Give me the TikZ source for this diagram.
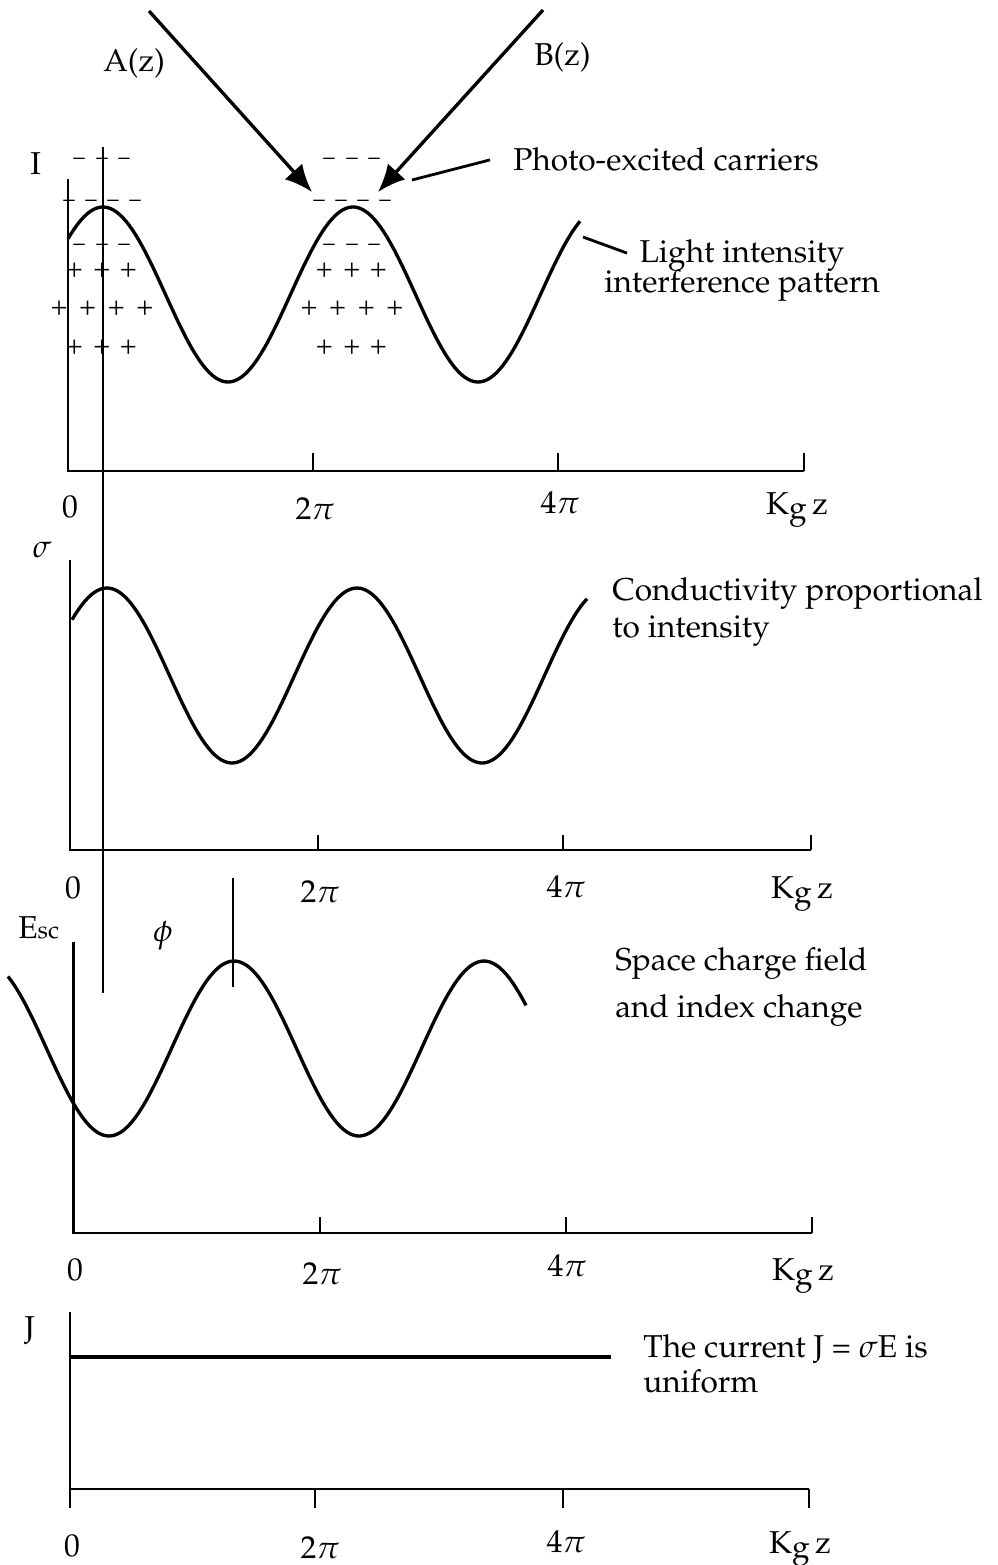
\documentclass[tikz,border=0pt]{standalone}
\usepackage[T1]{fontenc}
\usepackage{mathpazo}
\usetikzlibrary{arrows.meta}

\newcommand{\lab}{\fontsize{18}{21}\selectfont}
\newcommand{\Kgz}{K\raisebox{-.3ex}{g}\,z}

\begin{document}
\begin{tikzpicture}[x=0.2mm, y=-0.2mm, >={Latex[length=5.5mm,width=4.7mm]},
    every node/.style={font=\lab, inner sep=0pt},
    axis/.style={line width=1.4pt},
    wave/.style={line width=1.9pt, line join=round},
    beam/.style={line width=1.9pt},
    leader/.style={line width=1.6pt},
    guide/.style={line width=1.1pt},
    charge/.style={font=\fontsize{16}{16}\selectfont},
    electron/.style={font=\fontsize{13}{13}\selectfont}]
    \def\P{250}   % one period (2pi) in px
    \def\A{87.5}  % wave amplitude

    \useasboundingbox (0,0) rectangle (997,1565);

    % Incident beams A(z) and B(z)
    \coordinate (Afrom) at (149,11);
    \coordinate (Ato) at (312,192);
    \coordinate (Bfrom) at (543,10);
    \coordinate (Bto) at (378,192);
    \draw[beam,->] (Afrom) -- (Ato);
    \draw[beam,->] (Bfrom) -- (Bto);
    \node[anchor=base west] (Alab) at (103,71) {A(z)};
    \node[anchor=base west] (Blab) at (534,65) {B(z)};

    % Photo-excited carriers
    \node[anchor=base west] (photo) at (513,170) {Photo-excited carriers};
    \coordinate (photoend) at (412,180);
    \draw[leader] ([shift={(-23,1)}]photo.west) -- (photoend);

    % Carriers at the bright fringes
    \foreach \c [count=\n] in {102,352} {
      \foreach \d [count=\k] in {-23,0,22} {
        \node[electron] (top\n\k) at ({\c+\d},161) {--};
        \node[electron] (low\n\k) at ({\c+\d},247) {--};
        \node[charge] (pa\n\k) at ({\c+1.2*\d},270) {+};
        \node[charge] (pc\n\k) at ({\c+1.2*\d},347) {+};
      }
      \foreach \d [count=\k] in {-33,-11,11,33} {
        \node[electron] (mid\n\k) at ({\c+\d},203) {--};
        \node[charge] (pb\n\k) at ({\c+1.3*\d},308) {+};
      }
    }

    % Light intensity I
    \draw[axis] (68,179) -- (68,471) -- (804,471);
    \foreach \x in {313,558,804} \draw[axis] (\x,453) -- (\x,471);
    \node[anchor=base west] (Ilab) at (30,174) {I};
    \draw[wave] plot[domain=68:580, samples=160] (\x,{294.5-\A*cos((\x-103)/\P*360)});
    \node[anchor=base, align=center] (light) at (742,292) {Light intensity\\[-4pt]interference pattern};
    \coordinate (lightend) at (583,237);
    \draw[leader] ([shift={(23,-17)}]light.west) -- (lightend);
    \foreach \x/\y/\t [count=\k] in {70/517/0, 315/519/2$\pi$, 560/513/4$\pi$, 797/514/\Kgz}
      \node[anchor=base] (ax1\k) at (\x,\y) {\t};

    % Conductivity sigma
    \draw[axis] (70,560) -- (70,850) -- (811,850);
    \foreach \x in {318,563,811} \draw[axis] (\x,835) -- (\x,850);
    \node[anchor=base] (slab) at (42,557) {$\sigma$};
    \draw[wave] plot[domain=72:587, samples=160] (\x,{675.5-\A*cos((\x-107)/\P*360)});
    \node[anchor=base west, align=left] (cond) at (612,637) {Conductivity proportional\\to intensity};
    \foreach \x/\y/\t [count=\k] in {73/898/0, 320/902/2$\pi$, 566/897/4$\pi$, 802/898/\Kgz}
      \node[anchor=base] (ax2\k) at (\x,\y) {\t};

    % Space charge field
    \draw[axis] (73.5,942) -- (73.5,1233) -- (812,1233);
    \foreach \x in {320,566,812} \draw[axis] (\x,1217) -- (\x,1233);
    \node[anchor=base west] (Elab) at (18,938) {E{\fontsize{14}{14}\selectfont sc}};
    \node (philab) at (163,936) {$\phi$};
    \draw[guide] (233,878) -- (233,987);
    \draw[wave] plot[domain=8:526, samples=160] (\x,{1048.5+\A*cos((\x-109)/\P*360)});
    \node[anchor=base west, align=left] (scf) at (615,1017) {Space charge field\\[5.6pt]and index change};
    \foreach \x/\y/\t [count=\k] in {75/1280/0, 322/1284/2$\pi$, 567/1276/4$\pi$, 803/1280/\Kgz}
      \node[anchor=base] (ax3\k) at (\x,\y) {\t};

    % Reference line through the first maximum
    \draw[guide] (103,147) -- (103,993);

    % Current J
    \draw[axis] (70,1312) -- (70,1508);
    \draw[axis] (70,1489) -- (809,1489);
    \foreach \x in {315,563,809} \draw[axis] (\x,1489) -- (\x,1508);
    \node[anchor=base] (Jlab) at (30,1338) {J};
    \draw[wave] (70,1357) -- (611,1357);
    \node[anchor=base west, align=left] (cur) at (643,1392) {The current J = $\sigma$E is\\[-1.2pt]uniform};
    \foreach \x/\y/\t [count=\k] in {72/1556/0, 320/1558/2$\pi$, 566/1552/4$\pi$, 800/1553/\Kgz}
      \node[anchor=base] (ax4\k) at (\x,\y) {\t};
\end{tikzpicture}
\end{document}
